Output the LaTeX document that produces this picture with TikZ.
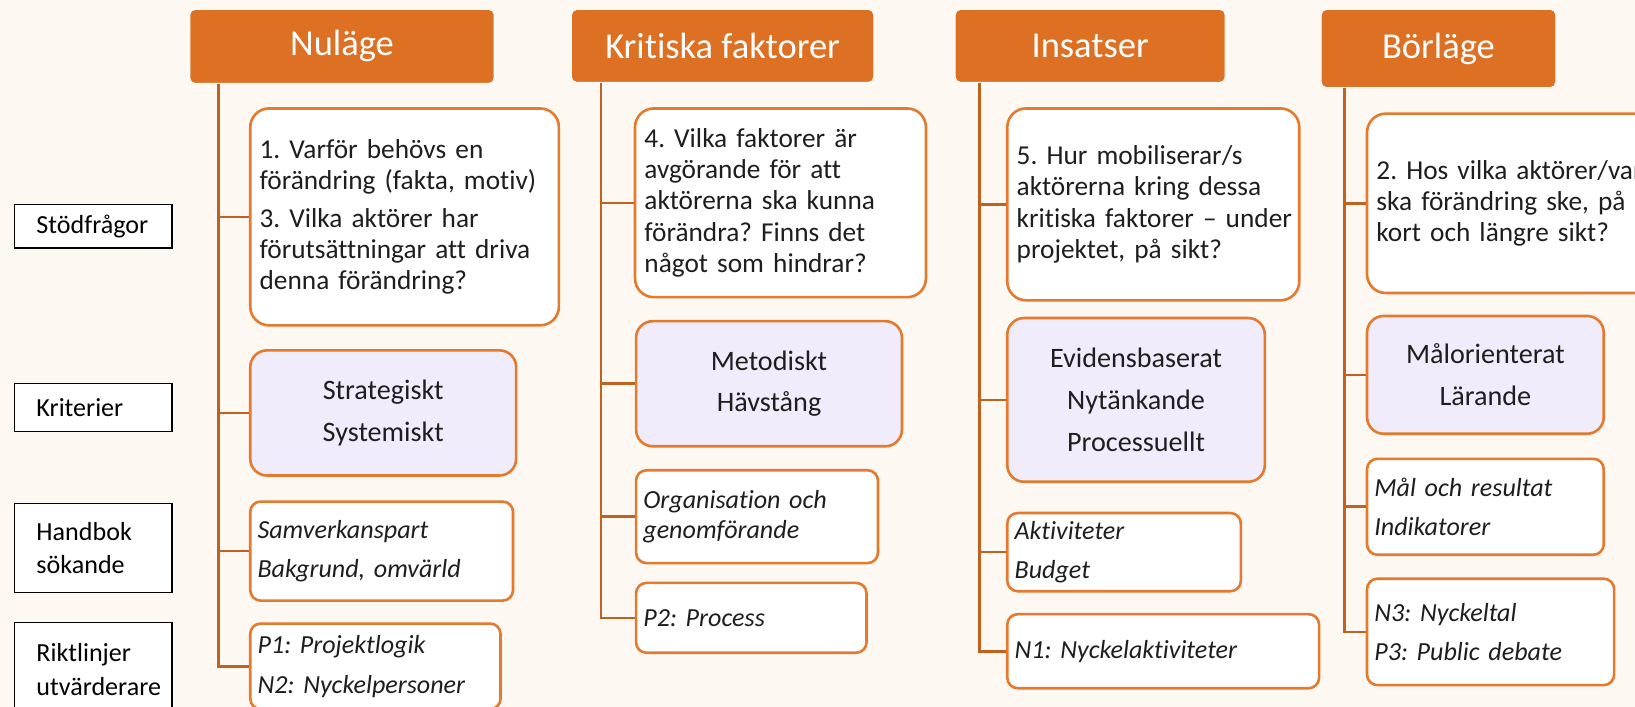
\documentclass[tikz,border=0pt]{standalone}
\usepackage{fontspec}
\setmainfont{Carlito}[Ligatures=NoCommon]
\usepackage{tikz}
\usetikzlibrary{positioning}
\frenchspacing
\definecolor{bgcream}{HTML}{FDF8F2}
\definecolor{hdorange}{HTML}{DE7024}
\definecolor{boxorange}{HTML}{E47A2E}
\definecolor{linebrown}{HTML}{C0621E}
\definecolor{lavender}{HTML}{F0ECFB}
\definecolor{ink}{HTML}{1E1E1E}
\tikzstyle{hdr} = [rectangle, rounded corners=5pt, fill=hdorange, draw=white, line width=1pt, text=white, inner sep=0pt, font=\fontsize{35}{40}\selectfont]
\tikzstyle{qbox} = [rectangle, rounded corners=18pt, draw=boxorange, line width=2.5pt, fill=white, text=ink, align=left, inner xsep=9pt, inner ysep=0pt, font=\fontsize{26.2}{30}\selectfont, execute at begin node={\hyphenpenalty=10000}]
\tikzstyle{kbox} = [rectangle, rounded corners=16pt, draw=boxorange, line width=2.5pt, fill=lavender, text=ink, align=center, inner xsep=10pt, inner ysep=0pt, font=\fontsize{27}{40}\selectfont]
\tikzstyle{ibox} = [rectangle, rounded corners=10pt, draw=boxorange, line width=2.5pt, fill=white, text=ink, align=left, inner xsep=7pt, inner ysep=0pt, font=\itshape\fontsize{25}{38}\selectfont]
\tikzstyle{lbl} = [rectangle, draw=black, line width=1.3pt, fill=white, text=black, align=left, inner xsep=8pt, inner ysep=0pt, text width=135pt, font=\fontsize{25}{32}\selectfont, execute at begin node={\leftskip=13pt}]
\tikzstyle{conn} = [draw=linebrown, line width=2.5pt]

\begin{document}
\begin{tikzpicture}[x=1pt,y=-1pt]
\useasboundingbox (0,0) rectangle (1568,678);
\clip (0,0) rectangle (1568,678);
\fill[bgcream] (0,0) rectangle (1568,678);

% row labels
\node[lbl, minimum height=42pt] (stod) at (89.5,217) {Stödfrågor};
\node[lbl, minimum height=46pt] (krit) at (89.5,391) {Kriterier};
\node[lbl, minimum height=85pt] (hand) at (89.5,525.5) {Handbok\\sökande};
\node[lbl, minimum height=90pt] (rikt) at (89.5,642) {Riktlinjer\\utvärderare};

% headers
\node[hdr, minimum width=292pt, minimum height=71pt] (nul) at (328,44.5) {Nuläge};
\node[hdr, minimum width=290pt, minimum height=70pt] (kf) at (693,44) {Kritiska faktorer};
\node[hdr, minimum width=259pt, minimum height=70pt] (ins) at (1045.5,44) {Insatser};
\node[hdr, minimum width=225pt, minimum height=75pt] (bor) at (1379.5,46.5) {Börläge};

% Nuläge
\node[qbox, text width=278pt, minimum height=208pt] (nulq) at (388,208)
  {1. Varför behövs en\\förändring (fakta, motiv)\\[6pt]3. Vilka aktörer har\\förutsättningar att driva\\denna förändring?};
\node[kbox, text width=235pt, minimum height=120pt] (nulk) at (367.5,396) {Strategiskt\\Systemiskt};
\node[ibox, text width=238pt, minimum height=95pt] (nulh) at (366,528.5) {Samverkanspart\\Bakgrund, omvärld};
\node[ibox, text width=226pt, minimum height=82pt] (nulr) at (360,639) {P1: Projektlogik\\N2: Nyckelpersoner};

% Kritiska faktorer
\node[qbox, text width=261pt, minimum height=181pt] (kfq) at (748.5,194.5)
  {4. Vilka faktorer är\\avgörande för att\\aktörerna ska kunna\\förändra? Finns det\\något som hindrar?};
\node[kbox, text width=235pt, minimum height=120pt] (kfk) at (737.5,368) {Metodiskt\\Hävstång};
\node[ibox, text width=218pt, minimum height=89pt, font=\itshape\fontsize{25}{28}\selectfont] (kfh) at (726,495.5) {Organisation och\\genomförande};
\node[ibox, text width=207pt, minimum height=67pt] (kfr) at (720.5,592.5) {P2: Process};

% Insatser
\node[qbox, text width=262pt, minimum height=184pt] (insq) at (1106,196)
  {5. Hur mobiliserar/s\\aktörerna kring dessa\\\mbox{kritiska faktorer – under}\\projektet, på sikt?};
\node[kbox, text width=227pt, minimum height=157pt] (insk) at (1089.5,383.5) {Evidensbaserat\\Nytänkande\\Processuellt};
\node[ibox, text width=210pt, minimum height=75pt] (insh) at (1078,529.5) {Aktiviteter\\Budget};
\node[ibox, text width=285pt, minimum height=71pt] (insr) at (1115.5,624.5) {N1: Nyckelaktiviteter};

% Börläge
\node[qbox, text width=271pt, minimum height=172pt] (borq) at (1455.5,195)
  {2. Hos vilka aktörer/var\\ska förändring ske, på\\kort och längre sikt?};
\node[kbox, text width=207pt, minimum height=113pt] (bork) at (1424.5,359.5) {Målorienterat\\Lärande};
\node[ibox, text width=213pt, minimum height=92pt] (borh) at (1424.5,486) {Mål och resultat\\Indikatorer};
\node[ibox, text width=223pt, minimum height=102pt] (borr) at (1429.5,606) {N3: Nyckeltal\\P3: Public debate};

% trunks and branches
\coordinate (t1) at ([xshift=28pt]nul.south west);
\coordinate (t2) at ([xshift=29pt]kf.south west);
\coordinate (t3) at ([xshift=24pt]ins.south west);
\coordinate (t4) at ([xshift=23pt]bor.south west);
\foreach \b in {nulq,nulk,nulh,nulr} \draw[conn] (t1) |- (\b.west);
\foreach \b in {kfq,kfk,kfh,kfr} \draw[conn] (t2) |- (\b.west);
\foreach \b in {insq,insk,insh,insr} \draw[conn] (t3) |- (\b.west);
\foreach \b in {borq,bork,borh,borr} \draw[conn] (t4) |- (\b.west);
\end{tikzpicture}
\end{document}
